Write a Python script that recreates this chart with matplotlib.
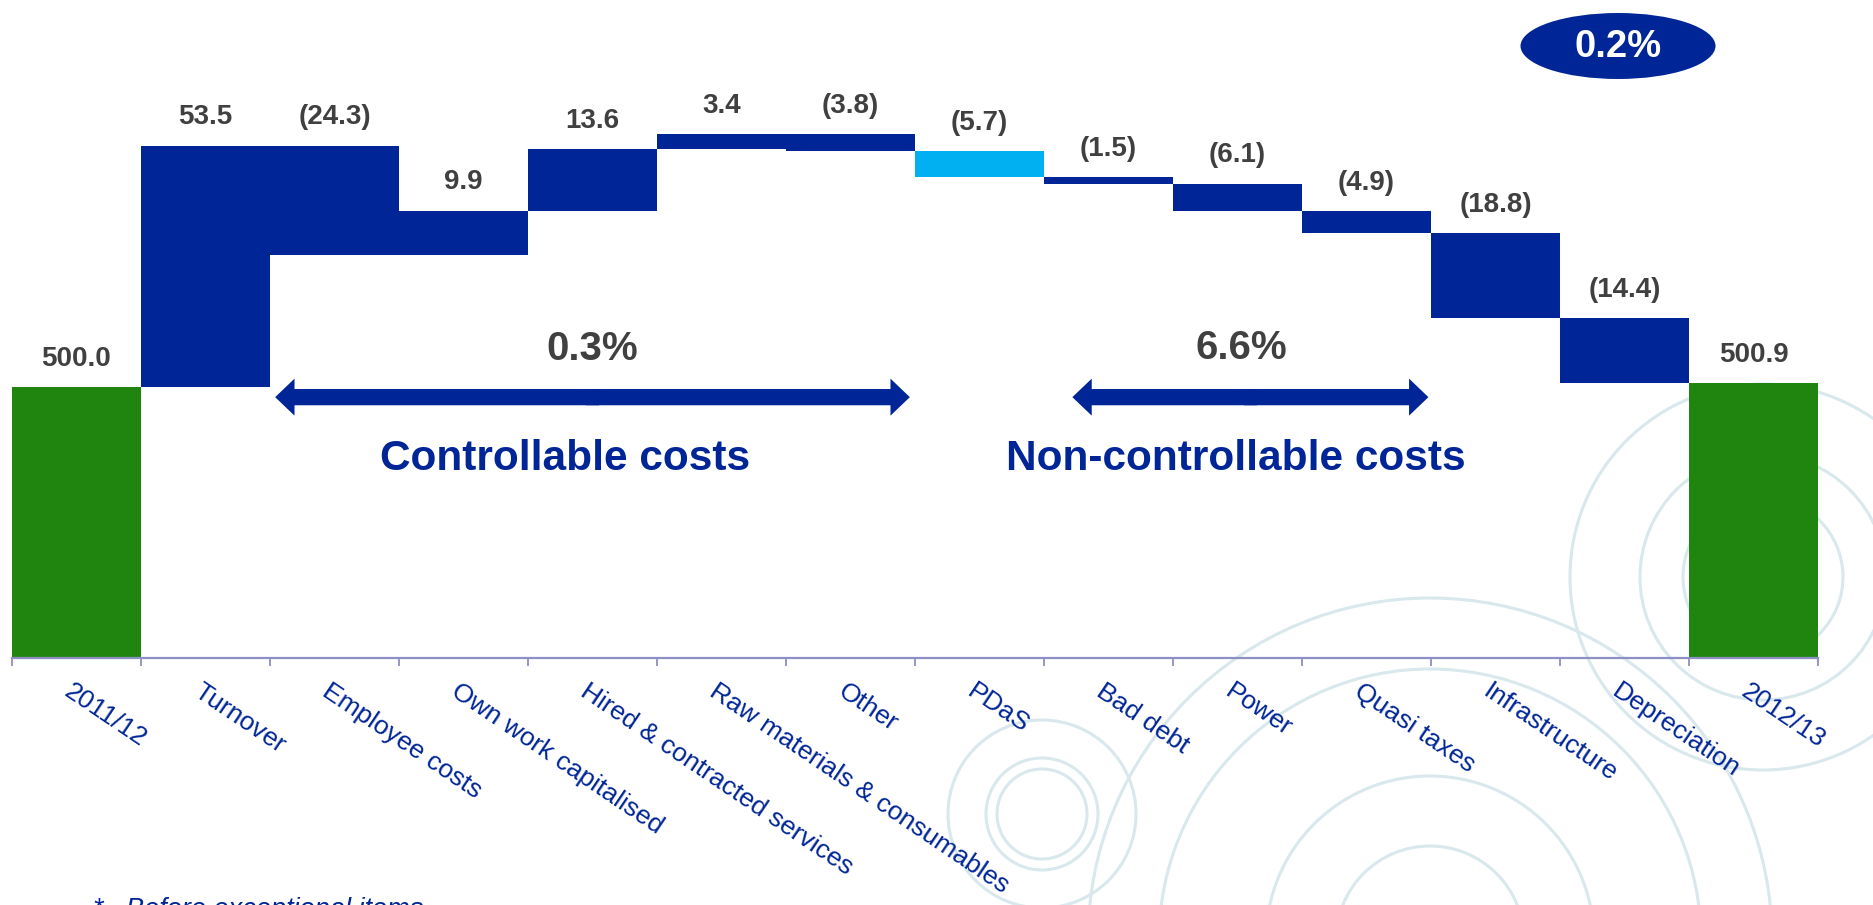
import matplotlib
matplotlib.use('Agg')
import matplotlib.pyplot as plt
import matplotlib.transforms as mtransforms
from matplotlib.patches import Circle, Ellipse, FancyArrow
import numpy as np

plt.rcParams['font.family'] = ['Liberation Sans', 'DejaVu Sans']

# Chart data
categories = ['2011/12', 'Turnover', 'Employee costs', 'Own work capitalised',
              'Hired & contracted services', 'Raw materials & consumables', 'Other',
              'PDaS', 'Bad debt', 'Power', 'Quasi taxes', 'Infrastructure',
              'Depreciation', '2012/13']
start_value = 500.0
changes = [53.5, -24.3, 9.9, 13.6, 3.4, -3.8, -5.7, -1.5, -6.1, -4.9, -18.8, -14.4]
end_value = 500.9
highlighted = ['PDaS']

group_labels = ['Controllable costs', 'Non-controllable costs']
group_pcts = ['0.3%', '6.6%']
total_pct = '0.2%'
footnote = '*   Before exceptional items'

# Colours
dark_blue = '#002596'
light_blue = '#00B0F0'
green = '#1F850F'
label_grey = '#404040'
axis_col = '#8C90C4'
ring_col = '#D8E8EC'

W, H = 1874, 905
fig = plt.figure(figsize=(W / 100, H / 100), dpi=100)

# Background rings (pixel coordinates)
bg = fig.add_axes([0, 0, 1, 1], zorder=0)
bg.set_xlim(0, W)
bg.set_ylim(H, 0)
bg.axis('off')
rings = [(1042, 814, 45), (1042, 814, 56), (1042, 814, 94),
         (1430, 940, 94), (1430, 940, 164), (1430, 940, 271), (1430, 940, 342),
         (1763, 577, 80), (1763, 577, 123), (1763, 577, 193)]
for cx, cy, r in rings:
    bg.add_patch(Circle((cx, cy), r, fill=False, ec=ring_col, lw=2.2))

# Total change badge
bg.add_patch(Ellipse((1618, 46), 195, 66, color=dark_blue, lw=0))
bg.text(1618, 47, total_pct, color='white', fontsize=27.5, fontweight='bold',
        ha='center', va='center')

bg.text(93, 897, footnote, color=dark_blue, fontsize=19.5, style='italic',
        ha='left', va='top')

# Main waterfall axes
ax = fig.add_axes([12 / W, (H - 658) / H, 1806 / W, 658 / H], zorder=1)
ax.patch.set_alpha(0)

n = len(categories)
x = np.arange(n)
bottoms, heights, tops, colors, texts = [], [], [], [], []
running = start_value
bottoms.append(0)
heights.append(start_value)
tops.append(start_value)
colors.append(green)
texts.append(f'{start_value:.1f}')
for cat, v in zip(categories[1:-1], changes):
    new = running + v
    bottoms.append(min(running, new))
    heights.append(abs(v))
    tops.append(max(running, new))
    colors.append(light_blue if cat in highlighted else dark_blue)
    texts.append(f'{v:.1f}' if v >= 0 else f'({abs(v):.1f})')
    running = new
bottoms.append(0)
heights.append(end_value)
tops.append(end_value)
colors.append(green)
texts.append(f'{end_value:.1f}')

ax.bar(x, heights, bottom=bottoms, width=1.0, color=colors, lw=0)

for xi, top, t in zip(x, tops, texts):
    ax.annotate(t, (xi, top), xytext=(0, 11), textcoords='offset points',
                ha='center', va='bottom', fontsize=20, fontweight='bold',
                color=label_grey)

ax.set_xlim(-0.5, n - 0.5)
ax.set_ylim(440, 585.8)

# Group arrows and labels
arrow_spans = [(1.54, 6.46), (7.72, 10.48)]
arrow_y = 497.8
pct_pos = [(4.0, 508.4), (9.03, 508.6)]
label_pos = [(3.79, 484.2), (8.99, 484.2)]
for (x0, x1), pct, lab, pp, lp in zip(arrow_spans, group_pcts, group_labels,
                                      pct_pos, label_pos):
    mid = (x0 + x1) / 2
    for end, start in ((x0, mid + 0.05), (x1, mid - 0.05)):
        ax.add_patch(FancyArrow(start, arrow_y, end - start, 0, width=3.6,
                                head_width=8.2, head_length=0.15,
                                length_includes_head=True, color=dark_blue, lw=0))
    ax.text(pp[0], pp[1], pct, ha='center', va='center', fontsize=29,
            fontweight='bold', color=label_grey)
    ax.text(lp[0], lp[1], lab, ha='center', va='center', fontsize=30.5,
            fontweight='bold', color=dark_blue)

# Axis styling
for side in ['top', 'right', 'left']:
    ax.spines[side].set_visible(False)
ax.spines['bottom'].set_color(axis_col)
ax.spines['bottom'].set_linewidth(1.6)
ax.set_yticks([])
ax.set_xticks(x)
ax.set_xticks(np.arange(n + 1) - 0.5, minor=True)
ax.set_xticklabels(categories, rotation=-34, ha='left', va='top',
                   rotation_mode='anchor', fontsize=19, color=dark_blue)
ax.tick_params(axis='x', which='major', length=0, pad=15)
ax.tick_params(axis='x', which='minor', length=6, width=1.3, color=axis_col)
shift = mtransforms.ScaledTranslation(-0.03, 0, fig.dpi_scale_trans)
for lbl in ax.get_xticklabels():
    lbl.set_transform(lbl.get_transform() + shift)

fig.savefig('out.png', dpi=100)
